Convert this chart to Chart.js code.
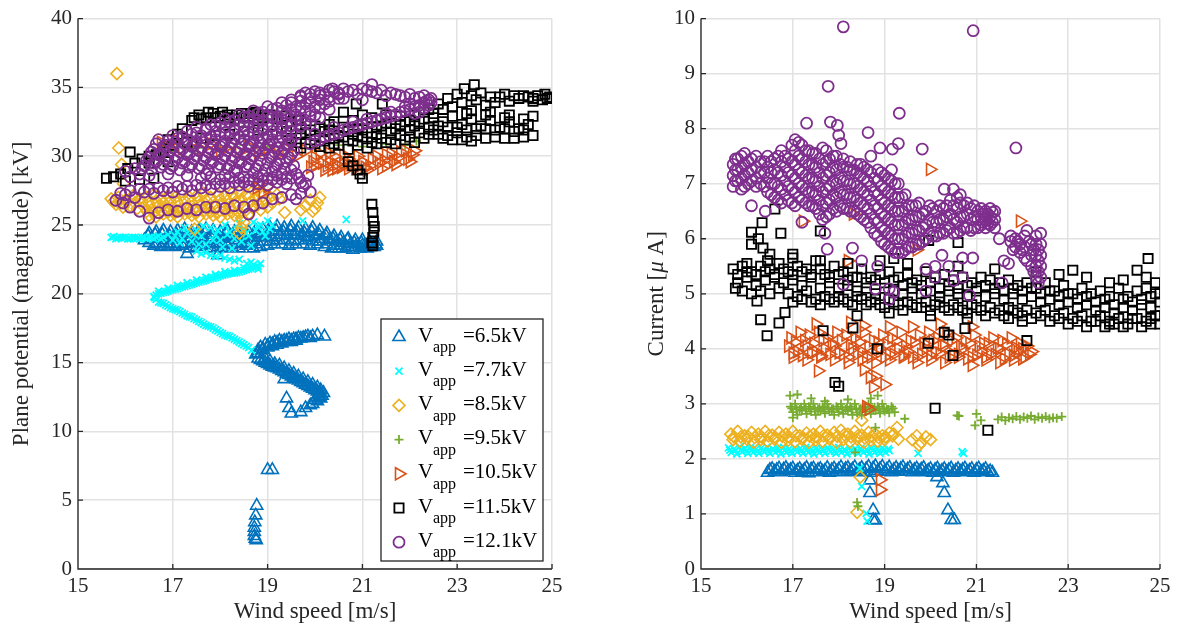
<!DOCTYPE html>
<html>
<head>
<meta charset="utf-8">
<script src="https://cdn.jsdelivr.net/npm/chart.js@4/dist/chart.umd.min.js"></script>
<style>
  body { margin: 0; background: #fff; width: 1188px; height: 632px; overflow: hidden; position: relative; }
  .panel { position: absolute; top: 0; height: 632px; }
  #left { left: 0; width: 580px; }
  #right { left: 600px; width: 588px; }
</style>
</head>
<body>
<div class="panel" id="left"><canvas id="potChart"></canvas></div>
<div class="panel" id="right"><canvas id="curChart"></canvas></div>
<script>
const xTicks = [15, 17, 19, 21, 23, 25];
const potTicks = [0, 5, 10, 15, 20, 25, 30, 35, 40];
const curTicks = [0, 1, 2, 3, 4, 5, 6, 7, 8, 9, 10];
const vappLabels = ['6.5kV', '7.7kV', '8.5kV', '9.5kV', '10.5kV', '11.5kV', '12.1kV'];

// ---- plane potential [kV] vs wind speed [m/s] ----
const potV65 = [
  [16.5,24.4],[16.65,24.5],[16.8,24.6],[16.95,24.5],[17.1,24.6],[17.25,24.7],[17.4,24.5],[17.55,24.6],[17.7,24.7],[17.85,24.6],[18.0,24.5],[18.15,24.6],[18.3,24.5],[18.45,24.4],[18.6,24.5],[18.75,24.6],[18.9,24.7],[19.05,24.8],[19.2,24.9],[19.35,24.8],[19.5,24.9],[19.65,24.8],[19.8,24.7],[19.95,24.8],[20.1,24.6],[20.25,24.4],[20.4,24.2],[20.55,24.1],[20.7,24.0],[20.85,23.9],[21.0,23.9],[21.15,23.8],[21.3,23.8],
  [16.48,24.2],[16.63,24.3],[16.78,24.3],[16.93,24.2],[17.08,24.3],[17.23,24.4],[17.38,24.3],[17.53,24.2],[17.68,24.4],[17.83,24.3],[17.98,24.2],[18.13,24.3],[18.28,24.2],[18.43,24.1],[18.58,24.2],[18.73,24.3],[18.88,24.4],[19.03,24.5],[19.18,24.6],[19.33,24.5],[19.48,24.6],[19.63,24.5],[19.78,24.4],[19.93,24.5],[20.08,24.3],[20.23,24.2],[20.38,24.0],[20.53,23.9],[20.68,23.9],[20.83,23.7],[20.98,23.7],[21.13,23.6],[21.28,23.6],
  [16.4,23.9],[16.55,24.0],[16.7,24.1],[16.85,23.9],[17.0,24.0],[17.15,24.1],[17.3,24.0],[17.45,23.9],[17.6,24.1],[17.75,24.0],[17.9,23.9],[18.05,24.0],[18.2,24.1],[18.35,23.9],[18.5,24.0],[18.65,23.9],[18.8,24.1],[18.95,24.2],[19.1,24.1],[19.25,24.3],[19.4,24.2],[19.55,24.3],[19.7,24.2],[19.85,24.1],[20.0,24.2],[20.15,24.0],[20.3,23.9],[20.45,23.8],[20.6,23.7],[20.75,23.6],[20.9,23.6],[21.05,23.5],[21.2,23.5],
  [16.5,23.7],[16.65,23.6],[16.8,23.7],[16.95,23.6],[17.1,23.7],[17.25,23.6],[17.4,23.7],[17.55,23.6],[17.7,23.7],[17.85,23.6],[18.0,23.7],[18.15,23.6],[18.3,23.7],[18.45,23.6],[18.6,23.7],[18.75,23.6],[18.9,23.8],[19.05,23.8],[19.2,23.9],[19.35,23.9],[19.5,23.8],[19.65,23.9],[19.8,23.9],[19.95,23.8],[20.1,23.8],[20.25,23.6],[20.4,23.5],[20.55,23.5],[20.7,23.4],[20.85,23.4],[21.0,23.5],[21.15,23.4],[21.3,23.5],
  [16.6,23.5],[16.75,23.4],[16.9,23.5],[17.05,23.4],[17.2,23.5],[17.35,23.3],[17.5,23.4],[17.65,23.5],[17.8,23.3],[17.95,23.4],[18.1,23.3],[18.25,23.4],[18.4,23.3],[18.55,23.5],[18.7,23.3],[18.85,23.4],[19.0,23.5],[19.15,23.6],[19.3,23.6],[19.45,23.5],[19.6,23.6],[19.75,23.6],[19.9,23.5],[20.05,23.6],[20.2,23.4],[20.35,23.3],[20.5,23.3],[20.65,23.3],[20.8,23.2],[20.95,23.3],[21.1,23.3],[21.25,23.4],
  [17.95,22.8],[17.3,22.9],
  [18.75,15.6],[18.8,15.9],[18.85,16.1],[18.95,16.3],[19.05,16.4],[19.15,16.5],[19.25,16.6],[19.35,16.6],[19.45,16.7],[19.55,16.7],[19.65,16.8],[19.75,16.8],[19.85,16.9],[19.95,16.9],[20.05,17.0],[20.2,16.9],
  [18.9,15.9],[19.0,16.1],[19.1,16.2],[19.2,16.3],[19.3,16.4],[19.4,16.5],[19.5,16.5],[19.6,16.6],
  [18.8,15.7],[18.9,16.0],[19.0,16.2],[19.1,16.35],[19.2,16.45],[19.3,16.5],[19.4,16.6],[19.5,16.6],[19.6,16.7],[19.7,16.75],[19.8,16.85],[19.9,16.8],
  [18.8,15.3],[18.9,15.1],[19.0,14.9],[19.1,14.7],[19.2,14.6],[19.3,14.4],[19.4,14.2],[19.5,14.0],[19.6,13.8],[19.7,13.6],[19.8,13.4],[19.9,13.2],[20.0,13.0],[20.1,12.8],[20.15,12.6],[20.12,12.4],[20.05,12.2],[19.95,12.0],[19.9,11.9],
  [18.95,15.3],[19.05,15.1],[19.15,14.9],[19.25,14.8],[19.35,14.6],[19.45,14.4],[19.55,14.2],[19.65,14.0],[19.75,13.8],[19.85,13.6],[19.95,13.4],[20.05,13.2],[20.12,13.0],[20.18,12.8],
  [18.85,15.2],[18.95,15.0],[19.05,14.8],[19.15,14.65],[19.25,14.5],[19.35,14.3],[19.45,14.1],[19.55,13.9],[19.65,13.7],[19.75,13.5],[19.85,13.3],[19.95,13.1],[20.05,12.9],[20.1,12.7],[20.08,12.5],[20.0,12.3],
  [19.35,13.8],[19.4,12.4],[19.45,11.7],[19.5,11.3],[19.7,11.4],[19.8,11.7],
  [19.0,7.2],[19.1,7.2],
  [18.77,4.6],[18.75,3.9],[18.73,3.4],[18.72,3.0],[18.72,2.7],[18.72,2.4],[18.74,2.2],[18.76,2.1]
];
const potV77 = [
  [15.7,24.1],[15.8,24.0],[15.9,24.1],[16.0,24.1],[16.1,24.0],[16.2,24.1],[16.3,24.0],[16.4,24.1],[16.5,24.1],[16.6,24.0],[16.7,24.2],[16.8,24.1],
  [15.75,24.15],[15.85,24.05],[15.95,24.1],[16.05,24.0],[16.15,24.1],[16.25,24.05],[16.35,24.1],[16.45,24.0],[16.55,24.1],[16.65,24.1],[16.75,24.0],
  [16.9,24.3],[17.0,23.9],[17.1,24.5],[17.2,24.0],[17.3,24.4],[17.4,23.8],[17.5,24.6],[17.6,24.2],[17.7,23.6],[17.8,24.8],[17.9,24.3],[18.0,23.9],[18.1,25.0],[18.2,24.5],[18.3,24.0],[18.4,25.1],[18.5,24.7],[18.6,24.2],[18.7,25.2],[18.8,24.9],[18.9,24.5],[19.0,25.3],[19.1,25.0],
  [17.05,24.2],[17.15,23.7],[17.25,24.8],[17.45,24.3],[17.55,23.6],[17.65,24.9],[17.85,23.9],[17.95,24.6],[18.05,23.4],[18.15,24.3],[18.25,23.3],[18.35,24.7],[18.45,23.8],[18.55,24.4],[18.65,23.5],[18.75,24.6],[18.85,25.0],[18.95,24.2],[19.05,24.7],
  [17.5,23.1],[17.6,22.9],[17.7,23.0],[17.8,22.8],[17.9,22.7],[18.0,22.8],[18.1,22.6],[18.2,22.5],[18.3,22.4],[18.4,22.5],[18.56,22.2],[18.65,22.3],
  [19.74,25.3],[20.66,25.4],
  [16.6,19.8],[16.7,20.0],[16.8,20.1],[16.9,20.2],[17.0,20.3],[17.1,20.4],[17.2,20.5],[17.3,20.6],[17.4,20.7],[17.5,20.8],[17.6,20.9],[17.7,21.0],[17.8,21.1],[17.9,21.2],[18.0,21.3],[18.1,21.4],[18.2,21.5],[18.3,21.5],[18.4,21.6],[18.5,21.7],[18.6,21.8],[18.7,21.9],[18.8,22.0],[18.85,22.2],[18.8,21.8],
  [16.65,19.9],[16.75,20.05],[16.85,20.15],[16.95,20.25],[17.05,20.35],[17.15,20.45],[17.25,20.55],[17.35,20.65],[17.45,20.75],[17.55,20.85],[17.65,20.95],[17.75,21.05],[17.85,21.15],[17.95,21.25],[18.05,21.35],[18.15,21.45],[18.25,21.5],[18.35,21.55],[18.45,21.65],[18.55,21.75],[18.65,21.85],[18.75,21.95],
  [16.7,20.2],[16.9,20.4],[17.1,20.6],[17.3,20.8],[17.5,21.0],[17.7,21.2],[17.9,21.4],[18.1,21.6],[18.3,21.7],[18.5,21.9],[18.7,22.1],
  [16.65,19.6],[16.7,19.4],[16.8,19.3],[16.9,19.1],[17.0,18.9],[17.1,18.8],[17.2,18.6],[17.3,18.4],[17.4,18.3],[17.5,18.1],[17.6,17.9],[17.7,17.7],[17.8,17.6],[17.9,17.4],[18.0,17.2],[18.1,17.0],[18.2,16.9],[18.3,16.7],[18.4,16.5],[18.5,16.3],[18.6,16.1],[18.66,15.9],
  [16.62,19.7],[16.75,19.35],[16.85,19.2],[16.95,19.0],[17.05,18.85],[17.15,18.7],[17.25,18.5],[17.35,18.35],[17.45,18.2],[17.55,18.0],[17.65,17.8],[17.75,17.65],[17.85,17.5],[17.95,17.3],[18.05,17.1],[18.15,16.95],[18.25,16.8],[18.35,16.6],[18.45,16.4],[18.55,16.2]
];
const potV85 = [
  [15.7,26.9],[15.85,27.0],[16.0,26.8],[16.15,27.1],[16.3,26.9],[16.45,27.0],[16.6,27.2],[16.75,26.9],[16.9,27.1],[17.05,27.0],[17.2,27.2],[17.35,27.0],[17.5,27.1],[17.65,27.3],[17.8,27.0],[17.95,27.2],[18.1,27.1],[18.25,27.3],[18.4,27.4],[18.55,27.2],[18.7,27.5],[18.85,27.3],
  [15.75,26.7],[15.9,26.6],[16.05,26.75],[16.2,26.6],[16.35,26.7],[16.5,26.55],[16.65,26.75],[16.8,26.6],[16.95,26.7],[17.1,26.6],[17.25,26.75],[17.4,26.65],[17.55,26.7],[17.7,26.8],[17.85,26.65],[18.0,26.85],[18.15,26.75],[18.3,26.95],[18.45,26.85],[18.6,27.0],[18.75,26.9],[18.9,27.1],[19.05,27.0],[19.2,27.2],
  [15.8,26.5],[15.95,26.3],[16.1,26.4],[16.25,26.2],[16.4,26.3],[16.55,26.1],[16.7,26.4],[16.85,26.2],[17.0,26.3],[17.15,26.1],[17.3,26.3],[17.45,26.2],[17.6,26.4],[17.75,26.2],[17.9,26.3],[18.05,26.5],[18.2,26.3],[18.35,26.6],[18.5,26.4],[18.65,26.7],[18.8,26.5],[18.95,26.8],[19.1,26.6],[19.25,26.9],
  [16.45,26.0],[16.6,25.9],[16.75,26.0],[16.9,25.95],[17.05,25.9],[17.2,26.05],[17.35,25.95],[17.5,25.9],[17.65,26.05],[17.8,25.95],[17.95,25.9],[18.1,26.05],[18.25,25.95],[18.4,25.9],[18.55,26.1],[18.7,26.2],[18.85,26.1],[19.0,26.3],
  [16.5,25.7],[16.65,25.6],[16.8,25.8],[16.95,25.7],[17.1,25.6],[17.25,25.8],[17.4,25.7],[17.55,25.6],[17.7,25.8],[17.85,25.7],[18.0,25.6],[18.15,25.8],[18.3,25.7],[18.45,25.5],[18.6,25.8],
  [18.5,25.2],[18.45,24.8],[18.4,24.4],
  [19.8,26.4],[19.9,26.8],[20.0,26.2],[20.05,26.6],[20.1,27.0],[19.95,26.0],
  [15.82,36.0],[15.86,30.6],[15.92,29.4],[15.96,28.0],[17.46,24.7],[19.36,25.9],[19.7,26.1]
];
const potV95 = [
  [17.0,30.4],[17.5,30.6],[18.0,30.5],[18.5,30.8],[19.0,30.7],[19.5,30.9],[20.0,30.6],[20.5,30.8],[21.0,30.7],[21.5,30.9],[22.14,31.1],[21.9,30.8]
];
const potV105 = [
  [16.75,31.0],[16.9,30.7],[17.05,31.2],[17.2,30.6],[17.4,31.0],[17.6,30.5],[17.8,30.9],[18.0,30.4],[18.2,30.8],[18.4,30.3],[18.6,30.7],[18.8,30.2],[19.0,30.6],[19.2,30.1],[19.4,30.5],[19.6,30.0],[19.8,30.4],
  [19.95,29.6],[20.1,30.2],[20.25,29.3],[20.4,30.0],[20.55,29.2],[20.7,29.8],[20.85,29.1],[21.0,29.6],[21.15,29.3],[21.3,30.0],[21.45,29.7],[21.6,30.2],[21.75,29.9],[21.9,30.4],[22.05,30.1],
  [20.0,29.9],[20.15,29.5],[20.3,30.2],[20.45,29.4],[20.6,30.1],[20.75,29.4],[20.9,30.0],[21.05,29.2],[21.2,29.8],[21.35,29.5],[21.5,30.1],[21.65,29.6],[21.8,30.3],[21.95,29.8],[22.1,30.4],
  [20.0,29.3],[20.35,29.0],[20.7,29.1],[21.1,29.0],[21.4,29.1],[21.7,29.4],[22.0,29.6],
  [20.3,29.6],[20.6,29.5],[19.9,29.2],[20.2,29.0],[20.45,29.1],[21.5,29.3],
  [18.77,27.7],[18.8,28.0],[18.9,27.4],[19.0,27.8]
];
const potV115 = [
  [15.6,28.4],[15.75,28.5],[15.9,28.7],[16.05,29.1],[16.2,29.5],[16.35,29.8],[16.5,30.0],[16.65,30.1],[16.8,30.3],[16.0,28.2],[16.3,28.3],[16.6,28.4],[16.1,30.3],[16.5,29.5],[16.9,29.6],
  [17.4,32.6],[17.55,33.0],[17.7,32.8],[17.85,33.1],[18.0,32.9],[18.15,33.0],[18.3,32.7],[18.45,33.1],[18.6,32.9],[18.75,33.2],[18.9,32.8],[19.05,33.0],[19.2,32.7],[19.35,32.9],[19.5,32.5],[19.65,32.6],
  [17.45,32.8],[17.6,32.7],[17.75,33.2],[17.9,32.8],[18.05,33.2],[18.2,32.8],[18.35,33.0],[18.5,32.8],[18.65,33.1],[18.8,33.0],[16.9,31.2],[17.1,31.6],[17.2,32.0],
  [17.0,30.8],[17.3,31.0],[17.6,31.3],[17.9,31.5],[18.2,31.6],[18.5,31.8],[18.8,31.9],[19.1,31.6],[19.4,31.8],[19.7,32.0],[20.0,31.5],[20.2,31.8],[20.4,31.3],[20.6,32.1],[20.8,31.6],[21.0,31.9],[21.2,31.4],[21.4,32.2],[21.6,31.7],[21.8,32.3],[22.0,31.9],[22.2,32.5],[22.4,32.1],
  [19.8,30.9],[20.1,30.7],[20.3,30.6],[20.5,30.8],[20.7,30.5],[20.9,30.8],[21.1,30.6],[21.3,30.9],[21.5,31.0],[21.7,30.9],[21.9,31.2],[22.1,31.0],[22.3,31.3],
  [19.6,31.0],[19.8,31.7],[20.0,32.2],[20.4,32.5],[20.8,32.6],[21.2,32.8],[21.6,32.4],[22.0,32.6],[19.9,31.2],[20.3,31.9],[20.9,31.5],[21.3,31.6],[20.87,33.8],[21.42,33.8],
  [19.5,31.3],[19.7,31.6],[19.9,31.9],[20.1,32.0],[20.3,32.3],[20.5,31.5],[20.7,31.8],[20.9,32.0],[21.1,31.7],[21.3,32.1],[21.5,32.4],[21.7,32.0],[21.9,32.5],[22.1,32.2],[22.3,32.7],
  [20.2,31.1],[20.4,30.9],[20.6,31.4],[20.8,31.1],[21.0,31.4],[21.2,31.0],[21.4,31.3],[21.6,31.2],[21.8,31.5],[22.0,31.4],[22.2,31.7],[22.4,31.6],[19.7,30.6],[20.0,30.9],
  [21.5,33.0],[21.0,33.0],[20.6,33.2],[21.8,32.9],[22.1,33.0],[22.3,33.2],
  [20.7,29.6],[20.8,29.3],[20.9,29.0],[20.95,28.7],[21.0,28.4],
  [22.4,33.4],[22.6,33.8],[22.8,34.2],[23.0,34.5],[23.15,34.9],[23.36,35.2],[23.4,34.1],[23.6,33.7],[23.8,33.9],[23.9,34.3],[24.1,34.0],[24.3,34.2],[24.5,34.3],[24.7,34.4],[24.85,34.5],[24.95,34.3],[25.0,34.2],[24.8,34.1],[24.6,34.2],
  [22.5,33.1],[22.7,33.4],[22.9,33.6],[23.1,33.9],[23.3,34.4],[23.5,34.6],[23.7,34.3],[24.0,34.5],[24.2,34.4],[24.4,34.4],[24.6,34.0],[24.9,34.2],
  [22.5,32.8],[22.7,32.5],[22.9,32.9],[23.1,32.3],[23.3,32.7],[23.5,32.2],[23.7,32.6],[23.9,32.1],[24.1,32.5],[24.3,32.0],[24.5,32.3],[23.2,33.1],[23.6,33.0],[24.0,32.8],
  [22.6,32.2],[22.8,32.1],[23.0,32.1],[23.2,31.9],[23.4,32.0],[23.6,32.0],[23.8,31.9],[24.0,32.0],[24.2,31.8],[24.4,31.9],[23.3,33.3],[23.7,33.2],[24.1,33.0],[24.4,32.7],[24.6,32.9],
  [22.5,31.9],[22.7,31.3],[22.9,31.2],[23.1,31.2],[23.3,31.1],
  [22.6,31.6],[22.8,31.5],[23.0,31.7],[23.2,31.4],[23.4,31.5],[23.6,31.3],[23.8,31.4],[24.0,31.3],[24.2,31.3],[24.4,31.4],[24.6,31.5],
  [21.2,26.5],[21.22,25.9],[21.23,25.3],[21.25,24.9],[21.24,24.5],[21.22,24.1],[21.2,23.7],[21.22,23.5]
];
const potV121 = [
  [16.1,26.3],[16.3,26.0],[16.5,25.5],[16.7,25.9],[16.9,26.1],[17.1,26.0],[17.3,26.2],[17.5,26.1],[17.7,26.3],[17.9,26.3],[18.1,26.2],[18.3,26.4],[18.5,26.3],[18.6,25.8],[18.7,26.4],[18.9,26.6],[19.1,26.9],[19.3,27.0],[19.5,27.2],[19.7,27.3],[19.9,27.4],[19.6,26.9],[19.8,28.0],[19.67,28.4],
  [15.8,26.8],[15.95,26.6],[16.0,27.2],[16.2,27.0],[16.4,27.4],[16.6,27.3],[16.8,27.5],[17.0,27.4],[17.2,27.6],[17.4,27.5],[17.6,27.7],[17.8,27.6],[18.0,27.8],[18.2,27.7],[18.4,27.9],[18.6,27.8],[18.8,28.0],[19.0,27.9],[19.2,28.1],[19.4,28.0],
  [15.9,27.3],[16.1,27.5],[16.3,27.6],[16.5,27.6],[16.7,27.7],[16.9,27.7],[17.1,27.8],[17.3,27.8],[17.5,27.9],[17.7,27.9],[17.9,28.0],[18.1,28.0],[18.3,28.1],[18.5,28.1],[18.7,28.2],[18.9,28.2],[19.1,28.3],[19.3,28.3],[19.5,28.4],[19.7,28.1],[19.85,28.6],[19.75,27.8],
  [16.0,28.9],[16.1,28.5],[16.2,29.1],[16.3,28.7],
  [17.6,28.4],[17.8,28.5],[18.0,28.3],[18.2,28.5],[18.4,28.4],[18.6,28.3],[18.8,28.5],[19.0,28.4],[19.2,28.6],[19.4,28.5],[19.6,28.7],
  [16.5,28.6],[16.9,28.7],[17.3,28.6],[17.7,28.7],[18.1,28.6],[18.3,28.9],[18.5,28.5],[18.7,28.8],[18.9,28.6],[19.1,28.9],[19.3,28.7],[19.5,29.0],
  [16.35,29.1],[16.55,29.0],[16.75,29.2],[16.95,29.1],[17.15,29.0],[17.35,29.2],[17.55,29.1],[17.75,29.0],[17.95,29.2],[18.15,29.1],[18.35,29.0],[18.55,29.2],[18.75,29.1],[18.95,29.0],[19.15,29.2],[19.35,29.1],[19.55,29.3],
  [16.4,29.3],[16.6,29.5],[16.8,29.4],[17.0,29.3],[17.2,29.5],[17.4,29.4],[17.6,29.3],[17.8,29.5],[18.0,29.4],[18.2,29.3],[18.4,29.5],[18.6,29.4],[18.8,29.3],[19.0,29.5],[19.2,29.4],[19.4,29.6],
  [16.45,29.7],[16.65,29.6],[16.85,29.8],[17.05,29.7],[17.25,29.6],[17.45,29.8],[17.65,29.7],[17.85,29.6],[18.05,29.8],[18.25,29.7],[18.45,29.6],[18.65,29.8],[18.85,29.7],[19.05,29.9],[19.25,29.7],[19.45,29.9],
  [16.5,29.9],[16.7,30.1],[16.9,30.0],[17.1,29.9],[17.3,30.1],[17.5,30.0],[17.7,29.9],[17.9,30.1],[18.1,30.0],[18.3,29.9],[18.5,30.1],[18.7,30.0],[18.9,30.2],[19.1,30.0],[19.3,30.2],[19.5,30.1],
  [16.55,30.3],[16.75,30.2],[16.95,30.4],[17.15,30.3],[17.35,30.2],[17.55,30.4],[17.75,30.3],[17.95,30.2],[18.15,30.4],[18.35,30.3],[18.55,30.2],[18.75,30.4],[18.95,30.5],[19.15,30.3],[19.35,30.5],[19.55,30.4],
  [16.6,30.5],[16.8,30.7],[17.0,30.6],[17.2,30.5],[17.4,30.7],[17.6,30.6],[17.8,30.5],[18.0,30.7],[18.2,30.6],[18.4,30.5],[18.6,30.7],[18.8,30.6],[19.0,30.8],[19.2,30.6],[19.4,30.8],
  [16.65,30.9],[16.85,30.8],[17.05,31.0],[17.25,30.9],[17.45,30.8],[17.65,31.0],[17.85,30.9],[18.05,30.8],[18.25,31.0],[18.45,30.9],[18.65,30.8],[18.85,31.0],[19.05,30.9],[19.25,31.1],[19.45,30.9],
  [16.7,31.2],[16.9,31.1],[17.1,31.3],[17.3,31.2],[17.5,31.1],[17.7,31.3],[17.9,31.2],[18.1,31.1],[18.3,31.3],[18.5,31.2],[18.7,31.1],[18.9,31.3],[19.1,31.2],[19.3,31.4],[19.5,31.2],
  [17.0,31.5],[17.2,31.4],[17.4,31.6],[17.6,31.5],[17.8,31.4],[18.0,31.6],[18.2,31.5],[18.4,31.4],[18.6,31.6],[18.8,31.5],[19.0,31.4],[19.2,31.6],[19.4,31.5],[19.6,31.6],
  [17.3,31.8],[17.5,31.7],[17.7,31.9],[17.9,31.8],[18.1,31.7],[18.3,31.9],[18.5,31.8],[18.7,31.7],[18.9,31.9],[19.1,31.8],[19.3,32.0],[19.5,31.8],
  [17.5,32.1],[17.7,32.0],[17.9,32.2],[18.1,32.1],[18.3,32.0],[18.5,32.2],[18.7,32.1],[18.9,32.0],[19.1,32.2],[19.3,32.1],[19.5,32.2],[19.7,32.2],[19.9,32.3],
  [17.8,32.3],[18.0,32.4],[18.2,32.5],[18.4,32.3],[18.6,32.5],[18.8,32.4],[19.0,32.3],[19.2,32.5],[19.4,32.4],[19.6,32.6],[19.8,32.4],
  [18.1,32.7],[18.3,32.6],[18.5,32.8],[18.7,32.7],[18.9,32.6],[19.1,32.8],[19.3,32.7],[19.5,32.9],[19.7,32.7],[19.9,32.9],[20.1,32.8],
  [18.4,33.0],[18.6,32.9],[18.8,33.1],[19.0,33.0],[19.2,32.9],[19.4,33.1],[19.6,33.0],[19.8,33.2],[20.0,33.0],
  [18.7,33.3],[18.9,33.2],[19.1,33.4],[19.3,33.3],[19.5,33.4],[19.7,33.5],[19.9,33.3],[20.1,33.5],[20.3,33.4],
  [19.0,33.6],[19.2,33.5],[19.4,33.7],[19.6,33.6],[19.8,33.8],[20.0,33.6],[20.2,33.8],
  [19.3,33.9],[19.5,33.9],[19.7,34.0],[19.9,33.9],[20.1,34.1],[20.3,34.0],[20.5,34.2],
  [19.5,34.1],[19.7,34.3],[19.9,34.2],[20.1,34.4],[20.3,34.3],[20.5,34.5],
  [19.7,34.4],[19.9,34.5],[20.1,34.6],[20.3,34.8],[20.37,34.9],[20.5,34.6],[20.7,34.7],[20.9,34.5],[21.1,34.8],[21.2,35.2],[21.3,34.6],[21.5,34.4],[21.7,34.5],[21.9,34.3],[22.1,34.2],[22.3,34.4],[20.6,34.2],[21.0,34.1],
  [19.8,34.6],[20.0,34.7],[20.2,34.5],[20.4,34.7],[20.6,34.9],[20.8,34.8],[21.0,34.9],[21.2,34.7],[21.4,34.8],[21.6,34.6],[21.8,34.4],[22.0,34.5],[22.2,34.3],[22.4,34.1],[22.45,33.9],
  [19.9,30.9],[20.1,31.2],[20.3,31.5],[20.5,31.7],[20.7,32.0],[20.9,32.2],[21.1,32.4],[21.3,32.6],[21.5,32.8],[21.7,33.0],[21.9,33.3],[22.1,33.6],[22.3,33.9],[22.45,34.2],[22.4,33.7],[22.2,33.2],
  [20.0,31.1],[20.2,31.4],[20.4,31.6],[20.6,31.9],[20.8,32.1],[21.0,32.3],[21.2,32.5],[21.4,32.7],[21.6,32.9],[21.8,33.2],[22.0,33.4],[22.2,33.7],[22.35,34.0],[22.3,33.5],[22.1,33.1],[21.9,33.6],[21.5,33.1],[21.1,32.7],
  [20.0,31.6],[20.4,32.1],[20.8,32.5],[21.6,33.2],[22.0,33.8]
];

// ---- current [uA] vs wind speed [m/s] ----
const curV65 = [
  [16.45,1.75],[16.6,1.77],[16.75,1.76],[16.9,1.78],[17.05,1.75],[17.2,1.77],[17.35,1.74],[17.5,1.76],[17.65,1.77],[17.8,1.75],[17.95,1.77],[18.1,1.76],[18.25,1.78],[18.4,1.76],[18.55,1.77],[18.7,1.75],[18.85,1.78],[19.0,1.77],[19.15,1.76],[19.3,1.78],[19.45,1.77],[19.6,1.76],[19.75,1.78],[19.9,1.76],[20.05,1.75],[20.2,1.77],[20.35,1.76],[20.5,1.75],[20.65,1.77],[20.8,1.76],[20.95,1.75],[21.1,1.77],[21.25,1.76],[21.35,1.75],
  [16.5,1.8],[16.65,1.8],[16.8,1.81],[16.95,1.8],[17.1,1.79],[17.25,1.8],[17.4,1.81],[17.55,1.8],[17.7,1.79],[17.85,1.8],[18.0,1.81],[18.15,1.82],[18.3,1.81],[18.45,1.8],[18.6,1.82],[18.75,1.83],[18.9,1.82],[19.05,1.81],[19.2,1.8],[19.35,1.82],[19.5,1.81],[19.65,1.8],[19.8,1.81],[19.95,1.79],[20.1,1.8],[20.25,1.79],[20.4,1.8],[20.55,1.79],[20.7,1.8],[20.85,1.79],[21.0,1.8],[21.15,1.79],[21.3,1.78],
  [16.55,1.82],[16.7,1.83],[16.85,1.84],[17.0,1.83],[17.15,1.82],[17.3,1.84],[17.45,1.83],[17.6,1.82],[17.75,1.84],[17.9,1.83],[18.05,1.85],[18.2,1.84],[18.35,1.85],[18.5,1.84],[18.65,1.86],[18.8,1.87],[18.95,1.86],[19.1,1.85],[19.25,1.84],[19.4,1.85],[19.55,1.84],[19.7,1.83],[19.85,1.84],[20.0,1.82],[20.15,1.83],[20.3,1.82],[20.45,1.83],[20.6,1.82],[20.75,1.83],[20.9,1.82],[21.05,1.83],[21.2,1.82],
  [18.68,1.61],[18.68,1.38],[18.75,1.07],[18.75,0.89],[18.8,0.88],[20.14,1.67],[20.27,1.56],[20.3,1.38],[20.38,1.07],[20.45,0.89],[20.52,0.89]
];
const curV77 = [
  [15.6,2.2],[15.72,2.18],[15.84,2.22],[15.96,2.19],[16.08,2.21],[16.2,2.18],[16.32,2.2],[16.44,2.22],[16.56,2.18],[16.68,2.2],[16.8,2.21],[16.92,2.18],[17.04,2.2],[17.16,2.19],[17.28,2.21],[17.4,2.18],[17.52,2.2],[17.64,2.17],[17.76,2.2],[17.88,2.18],[18.0,2.21],[18.12,2.17],[18.24,2.2],[18.36,2.18],[18.48,2.19],[18.6,2.17],[18.72,2.2],[18.84,2.18],[18.96,2.2],[19.08,2.18],
  [15.63,2.16],[15.75,2.15],[15.87,2.17],[15.99,2.15],[16.11,2.16],[16.23,2.14],[16.35,2.16],[16.47,2.15],[16.59,2.17],[16.71,2.15],[16.83,2.16],[16.95,2.14],[17.07,2.17],[17.19,2.15],[17.31,2.16],[17.43,2.14],[17.55,2.16],[17.67,2.15],[17.79,2.17],[17.91,2.14],[18.03,2.16],[18.15,2.15],[18.27,2.16],[18.39,2.14],[18.51,2.16],[18.63,2.15],[18.75,2.16],[18.87,2.14],[18.99,2.16],[19.1,2.15],
  [15.66,2.12],[15.78,2.09],[15.9,2.13],[16.02,2.1],[16.14,2.12],[16.26,2.1],[16.38,2.13],[16.5,2.1],[16.62,2.12],[16.74,2.09],[16.86,2.12],[16.98,2.1],[17.1,2.13],[17.22,2.1],[17.34,2.12],[17.46,2.09],[17.58,2.12],[17.7,2.1],[17.82,2.13],[17.94,2.1],[18.06,2.12],[18.18,2.09],[18.3,2.12],[18.42,2.1],[18.54,2.12],[18.66,2.09],[18.78,2.12],[18.9,2.1],[19.02,2.12],
  [19.73,2.1],[20.69,2.13],[20.72,2.1],[18.46,1.83],[18.5,1.5],[18.6,1.01],[18.62,0.87]
];
const curV85 = [
  [15.65,2.45],[15.8,2.5],[15.95,2.42],[16.1,2.48],[16.25,2.45],[16.4,2.5],[16.55,2.43],[16.7,2.48],[16.85,2.45],[17.0,2.5],[17.15,2.42],[17.3,2.47],[17.45,2.45],[17.6,2.5],[17.75,2.43],[17.9,2.48],[18.05,2.52],[18.2,2.45],[18.35,2.5],[18.5,2.43],[18.65,2.48],[18.8,2.45],[18.95,2.42],[19.1,2.47],
  [15.72,2.4],[15.87,2.4],[16.02,2.41],[16.17,2.39],[16.32,2.4],[16.47,2.42],[16.62,2.39],[16.77,2.41],[16.92,2.4],[17.07,2.42],[17.22,2.39],[17.37,2.41],[17.52,2.4],[17.67,2.42],[17.82,2.39],[17.97,2.41],[18.12,2.44],[18.27,2.4],[18.42,2.42],[18.57,2.38],[18.72,2.41],[18.87,2.39],[19.02,2.4],[19.17,2.42],
  [15.7,2.35],[15.85,2.32],[16.0,2.36],[16.15,2.3],[16.3,2.35],[16.45,2.32],[16.6,2.36],[16.75,2.3],[16.9,2.34],[17.05,2.31],[17.2,2.36],[17.35,2.3],[17.5,2.34],[17.65,2.32],[17.8,2.36],[17.95,2.3],[18.1,2.35],[18.25,2.31],[18.4,2.36],[18.55,2.3],[18.7,2.34],[18.85,2.32],[19.0,2.35],
  [19.6,2.35],[19.7,2.42],[19.8,2.3],[19.9,2.4],[20.0,2.35],[19.75,2.25],
  [19.27,2.57],[19.3,2.36],[19.2,2.45],[18.5,2.7],[18.47,1.67],[18.4,1.03]
];
const curV95 = [
  [16.95,2.95],[17.05,3.0],[17.15,2.9],[17.25,3.0],[17.35,2.95],[17.45,3.0],[17.55,2.9],[17.65,2.95],[17.75,3.0],[17.85,2.9],[17.95,2.95],[18.05,3.0],[18.15,2.9],[18.25,2.95],[18.35,3.0],[18.45,2.9],[18.55,2.95],[18.65,3.0],[18.75,2.9],[18.85,2.95],[18.95,3.0],[19.05,2.9],[19.15,2.95],[19.22,2.85],
  [16.98,2.92],[17.08,2.9],[17.18,2.94],[17.28,2.91],[17.38,2.92],[17.48,2.9],[17.58,2.93],[17.68,2.9],[17.78,2.93],[17.88,2.91],[17.98,2.92],[18.08,2.9],[18.18,2.94],[18.28,2.9],[18.38,2.92],[18.48,2.91],[18.58,2.93],[18.68,2.9],[18.78,2.94],[18.88,2.91],[18.98,2.92],[19.08,2.9],[19.18,2.92],
  [17.0,2.85],[17.1,2.8],[17.2,2.88],[17.3,2.82],[17.4,2.86],[17.5,2.8],[17.6,2.87],[17.7,2.83],[17.8,2.86],[17.9,2.8],[18.0,2.85],[18.1,2.82],[18.2,2.87],[18.3,2.8],[18.4,2.84],[18.5,2.8],[18.6,2.86],[18.7,2.82],[18.8,2.88],[18.9,2.83],[19.0,2.87],[19.1,2.84],
  [16.94,3.15],[17.1,3.17],[17.0,2.75],[17.4,3.1],[17.7,3.05],[18.2,3.08],[18.7,3.1],[18.85,3.15],[18.8,2.57],[19.44,2.73],[18.36,2.12],[18.4,1.21],[18.42,1.14],
  [20.58,2.79],[20.62,2.78],[20.97,2.61],[21.0,2.82],[21.1,2.7],
  [21.47,2.72],[21.55,2.76],[21.63,2.7],[21.71,2.75],[21.79,2.73],[21.87,2.77],[21.95,2.72],[22.03,2.76],[22.11,2.74],[22.19,2.78],[22.27,2.72],[22.35,2.76],[22.43,2.74],[22.51,2.77],[22.59,2.73],[22.67,2.75],[22.75,2.74],[22.86,2.77]
];
const curV105 = [
  [16.95,4.2],[17.15,4.3],[17.35,4.25],[17.55,4.3],[17.75,4.2],[17.95,4.3],[18.15,4.25],[18.35,4.2],[18.55,4.3],[18.75,4.15],[18.95,4.25],[19.15,4.2],[19.35,4.3],[19.55,4.15],[19.75,4.25],[19.95,4.3],[20.15,4.2],[20.35,4.3],[20.55,4.2],[20.75,4.15],[20.95,4.25],[21.15,4.1],[21.35,4.2],[21.55,4.15],[21.75,4.2],[21.95,4.1],[22.1,4.05],
  [17.05,4.12],[17.25,4.15],[17.45,4.1],[17.65,4.15],[17.85,4.1],[18.05,4.15],[18.25,4.08],[18.45,4.12],[18.65,4.05],[18.85,4.12],[19.05,4.08],[19.25,4.15],[19.45,4.05],[19.65,4.12],[19.85,4.1],[20.05,4.15],[20.25,4.08],[20.45,4.15],[20.65,4.05],[20.85,4.1],[21.05,4.05],[21.25,4.1],[21.45,4.02],[21.65,4.08],[21.85,4.02],[22.0,4.0],
  [16.9,4.05],[17.1,3.95],[17.3,4.05],[17.5,3.95],[17.7,4.0],[17.9,4.05],[18.1,3.9],[18.3,4.0],[18.5,3.95],[18.7,3.85],[18.9,4.0],[19.1,3.9],[19.3,4.0],[19.5,3.95],[19.7,3.85],[19.9,4.0],[20.1,3.95],[20.3,4.05],[20.5,3.9],[20.7,4.0],[20.9,3.85],[21.1,3.95],[21.3,3.9],[21.5,4.0],[21.7,3.9],[21.9,3.95],[22.15,3.9],
  [17.0,3.92],[17.2,3.88],[17.4,3.93],[17.6,3.88],[17.8,3.9],[18.0,3.93],[18.2,3.85],[18.4,3.9],[18.6,3.85],[18.8,3.9],[19.0,3.85],[19.2,3.9],[19.4,3.88],[19.6,3.85],[19.8,3.9],[20.0,3.88],[20.2,3.92],[20.4,3.85],[20.6,3.9],[20.8,3.82],[21.0,3.88],[21.2,3.85],[21.4,3.9],[21.6,3.82],[21.8,3.88],[22.0,3.82],[22.2,3.95],
  [17.0,3.85],[17.3,3.8],[17.6,3.85],[17.9,3.8],[18.2,3.75],[18.5,3.8],[18.8,3.75],[19.1,3.8],[19.4,3.85],[19.7,3.75],[20.0,3.8],[20.3,3.75],[20.6,3.85],[20.9,3.7],[21.2,3.8],[21.5,3.75],[21.8,3.8],[22.05,3.85],
  [17.5,4.45],[18.25,4.48],[18.55,4.42],[19.1,4.4],[19.6,4.4],[20.2,4.45],[20.9,4.4],
  [17.55,3.6],[18.55,3.62],[18.8,3.5],[19.0,3.35],[18.75,3.3],[18.68,3.48],[18.65,2.9],[18.6,2.95],[18.9,1.62],[18.9,1.44],
  [17.22,6.32],[18.31,6.45],[19.99,7.26],[21.95,6.32],[19.7,5.8],[18.2,5.6]
];
const curV115 = [
  [15.7,5.45],[15.9,5.5],[16.1,5.4],[16.3,5.5],[16.5,5.45],[16.7,5.55],[16.9,5.4],[17.1,5.5],[17.3,5.45],[17.5,5.6],[17.7,5.35],[17.9,5.5],[18.1,5.4],[18.3,5.3],[18.5,5.45],[18.7,5.3],[18.9,5.35],[19.1,5.4],[19.3,5.3],[19.5,5.35],[19.7,5.25],[19.9,5.4],[20.1,5.3],[20.3,5.35],[20.5,5.25],[20.7,5.3],[20.9,5.2],[21.1,5.3],[21.3,5.25],[21.5,5.2],[21.7,5.25],[21.9,5.15],[22.1,5.2],[22.3,5.1],[22.5,5.2],[22.7,5.05],[22.9,5.15],[23.1,5.0],[23.3,5.1],[23.5,5.0],[23.7,5.05],[23.9,4.95],[24.1,5.1],[24.3,4.95],[24.5,5.05],[24.7,5.1],[24.9,5.2],
  [15.8,5.35],[16.0,5.4],[16.2,5.35],[16.4,5.4],[16.6,5.35],[16.8,5.45],[17.0,5.35],[17.2,5.4],[17.4,5.35],[17.6,5.45],[17.8,5.3],[18.0,5.35],[18.2,5.25],[18.4,5.3],[18.6,5.2],[18.8,5.25],[19.0,5.2],[19.2,5.25],[19.4,5.15],[19.6,5.2],[19.8,5.15],[20.0,5.2],[20.2,5.1],[20.4,5.15],[20.6,5.1],[20.8,5.15],[21.0,5.1],[21.2,5.15],[21.4,5.1],[21.6,5.05],[21.8,5.1],[22.0,5.05],[22.2,5.1],[22.4,5.0],[22.6,5.05],[22.8,4.95],[23.0,5.0],[23.2,4.9],[23.4,4.95],[23.6,4.85],[23.8,4.9],[24.0,4.8],[24.2,4.9],[24.4,4.85],[24.6,4.9],[24.8,4.95],[25.0,5.0],
  [15.8,5.2],[16.0,5.3],[16.2,5.15],[16.4,5.25],[16.6,5.3],[16.8,5.2],[17.0,5.25],[17.2,5.15],[17.4,5.3],[17.6,5.1],[17.8,5.2],[18.0,5.1],[18.2,5.15],[18.4,5.05],[18.6,5.1],[18.8,5.0],[19.0,5.1],[19.2,5.05],[19.4,5.0],[19.6,5.1],[19.8,5.0],[20.0,5.05],[20.2,4.95],[20.4,5.05],[20.6,5.0],[20.8,4.95],[21.0,5.05],[21.2,4.95],[21.4,5.0],[21.6,4.9],[21.8,5.0],[22.0,4.9],[22.2,4.95],[22.4,4.85],[22.6,4.9],[22.8,4.8],[23.0,4.85],[23.2,4.75],[23.4,4.8],[23.6,4.7],[23.8,4.75],[24.0,4.65],[24.2,4.75],[24.4,4.7],[24.6,4.8],[24.8,4.75],[25.0,4.85],
  [15.9,5.05],[16.1,5.0],[16.3,5.05],[16.5,5.0],[16.7,5.1],[17.0,4.85],[17.2,4.9],[17.4,4.85],[17.6,4.8],[17.8,4.9],[18.0,4.95],[18.2,4.85],[18.4,4.95],[18.6,4.8],[18.8,4.9],[19.0,4.75],[19.2,4.85],[19.4,4.7],[19.6,4.8],[19.8,4.75],[20.0,4.7],[20.2,4.85],[20.4,4.7],[20.6,4.75],[20.8,4.65],[21.0,4.75],[21.2,4.6],[21.4,4.65],[21.6,4.6],[21.8,4.7],[22.0,4.6],[22.2,4.55],[22.4,4.6],[22.6,4.5],[22.8,4.55],[23.0,4.45],[23.2,4.5],[23.4,4.4],[23.6,4.5],[24.0,4.45],[24.2,4.4],[24.4,4.55],[24.6,4.4],[24.8,4.55],[25.0,4.45],
  [16.9,5.0],[17.1,4.95],[17.3,5.05],[17.5,4.9],[17.7,4.95],[17.9,4.85],[18.1,4.9],[18.3,4.8],[18.5,4.9],[18.7,4.85],[18.9,4.8],[19.1,4.9],[19.3,4.8],[19.5,4.85],[19.7,4.75],[19.9,4.85],[20.1,4.8],[20.3,4.75],[20.5,4.8],[20.7,4.7],[20.9,4.8],[21.1,4.7],[21.3,4.75],[21.5,4.7],[21.7,4.75],[21.9,4.65],[22.1,4.7],[22.3,4.65],[22.5,4.7],[22.7,4.6],[22.9,4.65],[23.1,4.55],[23.3,4.6],[23.5,4.5],[23.7,4.6],[23.9,4.5],[24.1,4.55],[24.3,4.45],[24.5,4.55],[24.7,4.5],[24.9,4.6],
  [15.75,5.1],[16.0,5.55],[16.45,5.6],[17.0,5.65],[17.6,5.6],[18.2,5.55],[18.9,5.6],[19.5,5.55],[20.6,5.5],[21.4,5.45],[22.3,5.4],[22.8,5.35],[23.4,5.3],[23.9,5.2],[24.2,5.25],[24.7,5.3],[24.9,5.0],[25.0,4.6],[24.8,4.45],[23.8,4.4],[18.4,4.6],[19.1,4.65],[20.0,4.6],[20.8,4.55],[21.7,4.55],
  [16.61,6.54],[16.33,6.29],[16.1,6.12],[16.74,6.1],[16.25,6.0],[16.1,5.9],[16.35,5.83],[17.6,6.14],[16.5,5.72],[17.0,5.72],[19.96,5.97],[20.6,5.93],[19.2,5.64],[24.74,5.64],[24.5,5.43],[23.1,5.43],
  [16.22,4.87],[16.3,4.53],[16.44,4.24],[16.7,4.47],[16.83,4.66],[17.66,4.33],[17.92,3.39],[18.0,3.32],[18.31,4.38],[18.84,4.0],[19.95,4.1],[20.3,4.3],[20.4,4.25],[20.49,3.88],[20.75,4.37],[20.1,2.92],[21.25,2.52],[22.1,4.15],[22.0,4.5],[23.9,4.45]
];
const curV121 = [
  [15.7,6.95],[15.7,7.15],[15.7,7.35],[15.8,7.05],[15.8,7.25],[15.8,7.45],[15.95,6.95],[15.95,7.15],[15.95,7.35],[15.95,7.55],[16.1,7.05],[16.1,7.25],[16.1,7.45],[16.3,7.0],[16.3,7.2],[16.3,7.4],
  [15.75,7.05],[15.75,7.25],[15.75,7.45],[15.88,6.9],[15.88,7.1],[15.88,7.3],[15.88,7.5],[16.03,7.0],[16.03,7.2],[16.03,7.4],[16.2,6.95],[16.2,7.1],[16.2,7.3],[16.2,7.5],[16.38,6.95],[16.38,7.2],[16.38,7.4],
  [16.45,6.85],[16.45,7.1],[16.45,7.3],[16.45,7.5],[16.6,6.75],[16.6,7.0],[16.6,7.25],[16.6,7.45],[16.75,6.65],[16.75,6.9],[16.75,7.15],[16.75,7.4],[16.75,7.6],[16.9,6.7],[16.9,6.95],[16.9,7.2],[16.9,7.45],
  [16.53,6.8],[16.53,7.0],[16.53,7.2],[16.53,7.4],[16.68,6.7],[16.68,6.95],[16.68,7.2],[16.68,7.5],[16.83,6.8],[16.83,7.05],[16.83,7.3],[16.83,7.5],[16.98,6.65],[16.98,6.9],[16.98,7.15],[16.98,7.4],[16.98,7.7],
  [17.05,6.6],[17.05,6.85],[17.05,7.1],[17.05,7.35],[17.05,7.6],[17.05,7.8],[17.2,6.7],[17.2,6.95],[17.2,7.2],[17.2,7.45],[17.2,7.7],[17.35,6.6],[17.35,6.85],[17.35,7.1],[17.35,7.35],[17.35,7.6],
  [17.13,6.75],[17.13,7.0],[17.13,7.25],[17.13,7.5],[17.13,7.75],[17.28,6.65],[17.28,6.9],[17.28,7.15],[17.28,7.4],[17.28,7.6],[17.43,6.6],[17.43,6.85],[17.43,7.1],[17.43,7.35],[17.43,7.55],
  [17.5,6.55],[17.5,6.8],[17.5,7.05],[17.5,7.3],[17.5,7.55],[17.65,6.35],[17.65,6.6],[17.65,6.85],[17.65,7.1],[17.65,7.35],[17.65,7.65],[17.8,6.45],[17.8,6.7],[17.8,6.95],[17.8,7.2],[17.8,7.45],
  [17.58,6.45],[17.58,6.7],[17.58,6.95],[17.58,7.2],[17.58,7.45],[17.73,6.4],[17.73,6.65],[17.73,6.9],[17.73,7.15],[17.73,7.4],[17.73,7.6],[17.88,6.55],[17.88,6.8],[17.88,7.05],[17.88,7.3],[17.88,7.5],
  [17.95,6.5],[17.95,6.75],[17.95,7.0],[17.95,7.25],[17.95,7.5],[18.1,6.55],[18.1,6.8],[18.1,7.05],[18.1,7.3],[18.1,7.45],[18.25,6.5],[18.25,6.75],[18.25,7.0],[18.25,7.25],[18.25,7.4],
  [18.03,6.6],[18.03,6.85],[18.03,7.1],[18.03,7.35],[18.18,6.55],[18.18,6.8],[18.18,7.05],[18.18,7.3],[18.33,6.5],[18.33,6.75],[18.33,7.0],[18.33,7.25],
  [18.4,6.45],[18.4,6.7],[18.4,6.95],[18.4,7.2],[18.4,7.35],[18.55,6.35],[18.55,6.6],[18.55,6.85],[18.55,7.1],[18.55,7.3],[18.7,6.2],[18.7,6.45],[18.7,6.7],[18.7,6.95],[18.7,7.2],
  [18.48,6.4],[18.48,6.65],[18.48,6.9],[18.48,7.15],[18.48,7.35],[18.63,6.3],[18.63,6.55],[18.63,6.8],[18.63,7.05],[18.63,7.25],[18.78,6.1],[18.78,6.35],[18.78,6.6],[18.78,6.85],[18.78,7.1],
  [18.85,6.05],[18.85,6.3],[18.85,6.55],[18.85,6.8],[18.85,7.05],[18.85,7.25],[19.0,5.9],[19.0,6.15],[19.0,6.4],[19.0,6.65],[19.0,6.9],[19.0,7.15],
  [18.93,5.95],[18.93,6.2],[18.93,6.45],[18.93,6.7],[18.93,6.95],[18.93,7.2],[19.08,5.85],[19.08,6.1],[19.08,6.35],[19.08,6.6],[19.08,6.85],[19.08,7.1],
  [19.15,5.8],[19.15,6.05],[19.15,6.3],[19.15,6.55],[19.15,6.8],[19.15,7.05],[19.15,7.25],[19.3,5.75],[19.3,6.0],[19.3,6.25],[19.3,6.5],[19.3,6.75],[19.3,7.0],
  [19.23,5.75],[19.23,6.0],[19.23,6.25],[19.23,6.5],[19.23,6.75],[19.23,7.0],[19.38,5.75],[19.38,6.0],[19.38,6.25],[19.38,6.5],[19.38,6.75],
  [19.45,5.8],[19.45,6.05],[19.45,6.3],[19.45,6.55],[19.45,6.8],[19.6,5.85],[19.6,6.1],[19.6,6.35],[19.6,6.6],[19.75,5.9],[19.75,6.15],[19.75,6.4],[19.75,6.65],
  [19.53,5.85],[19.53,6.1],[19.53,6.35],[19.53,6.6],[19.68,5.9],[19.68,6.15],[19.68,6.4],[19.68,6.6],[19.83,5.95],[19.83,6.2],[19.83,6.45],
  [19.9,6.0],[19.9,6.25],[19.9,6.5],[20.05,6.05],[20.05,6.3],[20.05,6.55],[20.2,6.1],[20.2,6.35],[20.2,6.6],[20.35,6.15],[20.35,6.4],[20.35,6.6],
  [19.98,6.1],[19.98,6.35],[19.98,6.6],[20.13,6.05],[20.13,6.3],[20.13,6.5],[20.28,6.1],[20.28,6.35],[20.28,6.55],
  [20.5,6.1],[20.5,6.35],[20.5,6.6],[20.5,6.9],[20.65,6.15],[20.65,6.4],[20.65,6.65],[20.8,6.2],[20.8,6.45],[20.8,6.65],[20.95,6.2],[20.95,6.4],[20.95,6.6],
  [20.43,6.2],[20.43,6.45],[20.43,6.7],[20.58,6.1],[20.58,6.3],[20.58,6.55],[20.58,6.75],[20.73,6.2],[20.73,6.4],[20.73,6.6],[20.88,6.15],[20.88,6.35],[20.88,6.55],
  [21.1,6.25],[21.1,6.4],[21.1,6.55],[21.2,6.2],[21.2,6.35],[21.2,6.5],[21.3,6.25],[21.3,6.4],[21.3,6.55],[21.4,6.2],[21.4,6.35],[21.4,6.5],
  [21.03,6.2],[21.03,6.35],[21.03,6.5],[21.15,6.3],[21.15,6.45],[21.25,6.28],[21.25,6.45],[21.35,6.3],[21.35,6.48],
  [21.75,5.95],[21.75,6.05],[21.85,5.85],[21.85,6.0],[21.95,5.75],[21.95,5.9],[22.05,5.65],[22.05,5.85],[22.05,6.05],[22.2,5.5],[22.2,5.7],[22.2,5.9],[22.3,5.3],[22.3,5.5],[22.3,5.7],[22.3,5.9],[22.3,6.05],[22.35,5.2],[22.35,5.4],[22.35,5.6],[22.35,5.8],
  [21.8,5.8],[21.9,5.95],[22.0,5.8],[22.1,5.6],[22.15,5.95],[22.25,5.4],[22.25,5.8],[22.4,5.3],[22.4,5.5],[22.4,5.7],[22.4,5.9],
  [18.1,9.85],[20.93,9.78],[17.77,8.77],[19.32,8.28],[17.3,8.1],[17.82,8.12],[17.97,8.06],[18.0,7.88],[18.05,7.73],[18.64,7.93],[19.82,7.63],[21.86,7.65],[19.3,7.73],[19.17,7.63],[18.7,7.5],[18.9,7.65],
  [16.1,6.6],[16.4,6.5],[17.2,6.3],[17.7,6.1],[17.75,5.81],[18.1,5.17],[18.3,5.83],[18.8,5.09],[19.1,5.09],[19.1,4.9],[19.2,5.03],[19.9,5.05],[20.1,5.3],[20.5,5.24],[20.85,4.97],[20.7,5.3],[21.56,5.2],
  [19.9,5.45],[20.1,5.5],[20.25,5.7],[20.7,5.65],[20.92,5.65],[20.4,5.5],[20.3,6.9],[20.65,6.8],[21.6,5.6],[21.7,5.55],[22.1,6.15],[21.5,6.0],[22.4,6.1],[18.5,5.6],[18.85,5.5]
];

const colors = ['#0072BD', '#00FFFF', '#EDB120', '#77AC30', '#D95319', '#000000', '#7E2F8E'];
const markers = [
  { pointStyle: 'triangle', rotation: 0, radius: 7, borderWidth: 1.6 },
  { pointStyle: 'crossRot', rotation: 0, radius: 5, borderWidth: 1.8 },
  { pointStyle: 'rectRot', rotation: 0, radius: 6, borderWidth: 1.6 },
  { pointStyle: 'cross', rotation: 0, radius: 4.5, borderWidth: 1.8 },
  { pointStyle: 'triangle', rotation: 90, radius: 7, borderWidth: 1.6 },
  { pointStyle: 'rect', rotation: 0, radius: 6.5, borderWidth: 1.8 },
  { pointStyle: 'circle', rotation: 0, radius: 5.5, borderWidth: 1.8 }
];

const serif = '"Liberation Serif", "Times New Roman", serif';
const textColor = '#262626';

function buildDatasets(seriesList) {
  return seriesList.map((pts, i) => ({
    label: 'Vapp =' + vappLabels[i],
    data: pts.map(([x, y]) => ({ x, y })),
    pointStyle: markers[i].pointStyle,
    rotation: markers[i].rotation,
    pointRadius: markers[i].radius,
    pointBorderWidth: markers[i].borderWidth,
    borderWidth: markers[i].borderWidth,
    borderColor: colors[i],
    pointBorderColor: colors[i],
    backgroundColor: 'rgba(0,0,0,0)',
    pointBackgroundColor: 'rgba(0,0,0,0)',
    showLine: false,
    order: 10 - i
  }));
}

const axisTicks = {
  id: 'axisTicks',
  afterDatasetsDraw(chart) {
    const { ctx, chartArea: a, scales: { x, y } } = chart;
    ctx.save();
    ctx.strokeStyle = textColor;
    ctx.lineWidth = 1.3;
    ctx.beginPath();
    x.ticks.forEach(t => {
      const px = x.getPixelForValue(t.value);
      ctx.moveTo(px, a.bottom);
      ctx.lineTo(px, a.bottom - 5);
    });
    y.ticks.forEach(t => {
      const py = y.getPixelForValue(t.value);
      ctx.moveTo(a.left, py);
      ctx.lineTo(a.left + 5, py);
    });
    ctx.moveTo(a.left, a.top);
    ctx.lineTo(a.left, a.bottom);
    ctx.lineTo(a.right, a.bottom);
    ctx.stroke();
    ctx.restore();
  }
};

// y title of the current panel, with an italic mu
const muTitle = {
  id: 'muTitle',
  afterDraw(chart) {
    const { ctx, chartArea: a } = chart;
    const parts = [['Current [', 'normal'], ['μ', 'italic'], [' A]', 'normal']];
    ctx.save();
    ctx.translate(57, (a.top + a.bottom) / 2);
    ctx.rotate(-Math.PI / 2);
    ctx.fillStyle = textColor;
    ctx.textBaseline = 'middle';
    ctx.textAlign = 'left';
    let total = 0;
    parts.forEach(([t, st]) => { ctx.font = st + ' 23px ' + serif; total += ctx.measureText(t).width; });
    let px = -total / 2;
    parts.forEach(([t, st]) => {
      ctx.font = st + ' 23px ' + serif;
      ctx.fillText(t, px, 0);
      px += ctx.measureText(t).width;
    });
    ctx.restore();
  }
};

const vappLegend = {
  id: 'vappLegend',
  afterDraw(chart) {
    const ctx = chart.ctx;
    const bx = 381, by = 319, bw = 162, bh = 242;
    ctx.save();
    ctx.fillStyle = '#fff';
    ctx.fillRect(bx, by, bw, bh);
    ctx.strokeStyle = textColor;
    ctx.lineWidth = 1.3;
    ctx.strokeRect(bx, by, bw, bh);
    vappLabels.forEach((lab, i) => {
      const cy = 336 + i * 34.2;
      ctx.strokeStyle = colors[i];
      ctx.fillStyle = 'rgba(0,0,0,0)';
      ctx.lineWidth = markers[i].borderWidth;
      Chart.helpers.drawPoint(ctx, {
        pointStyle: markers[i].pointStyle,
        rotation: markers[i].rotation,
        radius: markers[i].radius,
        borderWidth: markers[i].borderWidth
      }, 399, cy + 1);
      ctx.fillStyle = '#000';
      ctx.textBaseline = 'middle';
      ctx.textAlign = 'left';
      ctx.font = '21px ' + serif;
      ctx.fillText('V', 418, cy);
      ctx.font = '16px ' + serif;
      ctx.fillText('app', 433, cy + 12);
      ctx.font = '21px ' + serif;
      ctx.fillText('=' + lab, 463, cy);
    });
    ctx.restore();
  }
};

function makeOptions(yMin, yMax, yTickList, yTitle, yWidth, yTitlePad) {
  return {
    responsive: true,
    maintainAspectRatio: false,
    animation: false,
    events: [],
    layout: { padding: { top: 17, right: 28, left: 0, bottom: 0 } },
    plugins: { legend: { display: false }, tooltip: { enabled: false } },
    scales: {
      x: {
        type: 'linear', min: 15, max: 25,
        afterBuildTicks: s => { s.ticks = xTicks.map(v => ({ value: v })); },
        afterFit: s => { s.height = 63; },
        grid: { color: '#e2e2e2', lineWidth: 1.5, drawTicks: false },
        border: { display: false },
        ticks: { color: textColor, font: { family: serif, size: 21 }, padding: 5, maxRotation: 0 },
        title: { display: true, text: 'Wind speed [m/s]', color: textColor, font: { family: serif, size: 23 }, padding: { top: 0, bottom: 6 } }
      },
      y: {
        type: 'linear', min: yMin, max: yMax,
        afterBuildTicks: s => { s.ticks = yTickList.map(v => ({ value: v })); },
        afterFit: s => { s.width = yWidth; },
        grid: { color: '#e2e2e2', lineWidth: 1.5, drawTicks: false },
        border: { display: false },
        ticks: { color: textColor, font: { family: serif, size: 21 }, padding: 6 },
        title: { display: yTitle !== '', text: yTitle, color: textColor, font: { family: serif, size: 23 }, padding: { top: yTitlePad, bottom: 0 } }
      }
    }
  };
}

new Chart(document.getElementById('potChart').getContext('2d'), {
  type: 'scatter',
  data: { datasets: buildDatasets([potV65, potV77, potV85, potV95, potV105, potV115, potV121]) },
  options: makeOptions(0, 40, potTicks, 'Plane potential (magnitude) [kV]', 78, 8),
  plugins: [axisTicks, vappLegend]
});

new Chart(document.getElementById('curChart').getContext('2d'), {
  type: 'scatter',
  data: { datasets: buildDatasets([curV65, curV77, curV85, curV95, curV105, curV115, curV121]) },
  options: makeOptions(0, 10, curTicks, '', 101, 0),
  plugins: [axisTicks, muTitle]
});
</script>
</body>
</html>
